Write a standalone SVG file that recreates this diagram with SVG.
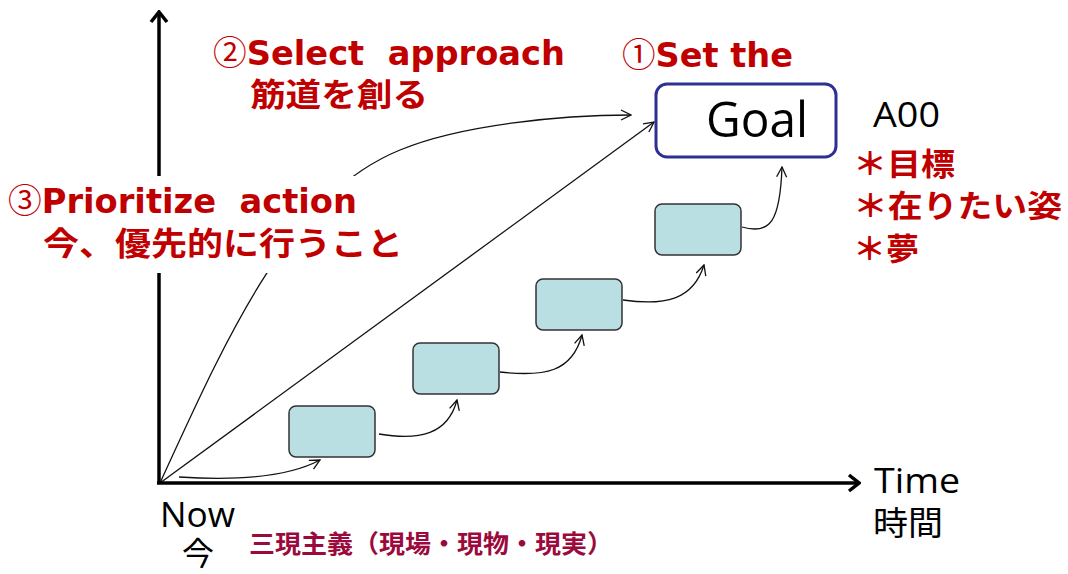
<svg xmlns="http://www.w3.org/2000/svg" width="1068" height="574" viewBox="0 0 1068 574">
  <style>
    .red { fill: #C00000; font-family: "DejaVu Sans", "Noto Sans CJK JP", sans-serif; font-weight: bold; }
    .num { font-family: "Noto Sans CJK JP", sans-serif; font-weight: normal; }
    .redj { fill: #C00000; font-family: "Noto Sans CJK JP", sans-serif; font-weight: bold; }
    .blk { fill: #000; font-family: "Open Sans", "Noto Sans CJK JP", sans-serif; }
    .blkj { fill: #000; font-family: "Noto Sans CJK JP", sans-serif; }
    .step { fill: #B9DFE2; stroke: #333; stroke-width: 1.5; }
    .conn { fill: none; stroke: #111; stroke-width: 1.3; marker-end: url(#thin); }
    .axis { fill: none; stroke: #000; stroke-width: 3.5; marker-end: url(#thick); }
  </style>
  <defs>
    <marker id="thin" viewBox="0 0 12 12" refX="11" refY="6" markerWidth="12" markerHeight="12" markerUnits="userSpaceOnUse" orient="auto">
      <path d="M1,1 L11,6 L1,11" fill="none" stroke="#111" stroke-width="1.3"/>
    </marker>
    <marker id="thick" viewBox="0 0 20 20" refX="18" refY="10" markerWidth="20" markerHeight="20" markerUnits="userSpaceOnUse" orient="auto">
      <path d="M8,2 L18,10 L8,18" fill="none" stroke="#000" stroke-width="3.5"/>
    </marker>
  </defs>
  <rect width="1068" height="574" fill="#fff"/>

  <g id="connectors">
    <path class="conn" d="M160,483 C230,330 290,195 400,150 C460,125 560,115 631,115"/>
    <path class="conn" d="M160,483 L654,122"/>
    <path class="conn" d="M179,477 C240,481 290,476 320,460"/>
    <path class="conn" d="M379,434 C420,441 448,434 457,400"/>
    <path class="conn" d="M500,372 C545,377 572,372 582,335"/>
    <path class="conn" d="M623,300 C665,306 693,300 704,265"/>
    <path class="conn" d="M742,227 C770,235 780,222 782,167"/>
  </g>

  <g id="axes">
    <path class="axis" d="M159,483 L159,12"/>
    <path class="axis" d="M157,483 L859,483"/>
  </g>

  <g id="step1"><rect class="step" x="289" y="406" width="86" height="51" rx="7"/></g>
  <g id="step2"><rect class="step" x="413" y="343" width="86" height="51" rx="7"/></g>
  <g id="step3"><rect class="step" x="536" y="279" width="86" height="51" rx="7"/></g>
  <g id="step4"><rect class="step" x="655" y="204" width="86" height="51" rx="7"/></g>

  <g id="goal">
    <rect x="656" y="84" width="180" height="73" rx="11" fill="#fff" stroke="#2E3192" stroke-width="3"/>
    <text class="blk" x="706" y="137" font-size="50" textLength="102" lengthAdjust="spacingAndGlyphs">Goal</text>
  </g>

  <g id="label-set">
    <text class="red" x="622" y="67" font-size="34" textLength="171" lengthAdjust="spacingAndGlyphs"><tspan class="num">①</tspan>Set the</text>
  </g>
  <g id="label-select">
    <text class="red" x="213" y="65" font-size="34" textLength="352" lengthAdjust="spacingAndGlyphs"><tspan class="num">②</tspan>Select&#160; approach</text>
    <text class="redj" x="250" y="106" font-size="32" textLength="178" lengthAdjust="spacingAndGlyphs">筋道を創る</text>
  </g>
  <g id="label-prioritize">
    <rect x="0" y="176" width="412" height="97" fill="#fff"/>
    <text class="red" x="8" y="213" font-size="34" textLength="349" lengthAdjust="spacingAndGlyphs"><tspan class="num">③</tspan>Prioritize&#160; action</text>
    <text class="redj" x="43" y="255" font-size="32" textLength="360" lengthAdjust="spacingAndGlyphs">今、優先的に行うこと</text>
  </g>

  <g id="label-a00">
    <text class="blk" x="873" y="127" font-size="34" textLength="67" lengthAdjust="spacingAndGlyphs">A00</text>
  </g>
  <g id="label-goal-notes">
    <text class="redj" x="853" y="175" font-size="31" textLength="102" lengthAdjust="spacingAndGlyphs">＊目標</text>
    <text class="redj" x="853" y="217" font-size="31" textLength="209" lengthAdjust="spacingAndGlyphs">＊在りたい姿</text>
    <text class="redj" x="853" y="260" font-size="31" textLength="66" lengthAdjust="spacingAndGlyphs">＊夢</text>
  </g>

  <g id="label-time">
    <text class="blk" x="874" y="493" font-size="35" textLength="86" lengthAdjust="spacingAndGlyphs">Time</text>
    <text class="blkj" x="873" y="535" font-size="33" textLength="70" lengthAdjust="spacingAndGlyphs">時間</text>
  </g>
  <g id="label-now">
    <text class="blk" x="160" y="527" font-size="34" textLength="75" lengthAdjust="spacingAndGlyphs">Now</text>
    <text class="blkj" x="182" y="565" font-size="32">今</text>
  </g>
  <g id="label-sangen">
    <text x="249" y="553" font-size="25" font-family="Noto Sans CJK JP, sans-serif" font-weight="bold" fill="#9B0A3C" textLength="364" lengthAdjust="spacingAndGlyphs">三現主義（現場・現物・現実）</text>
  </g>
</svg>
